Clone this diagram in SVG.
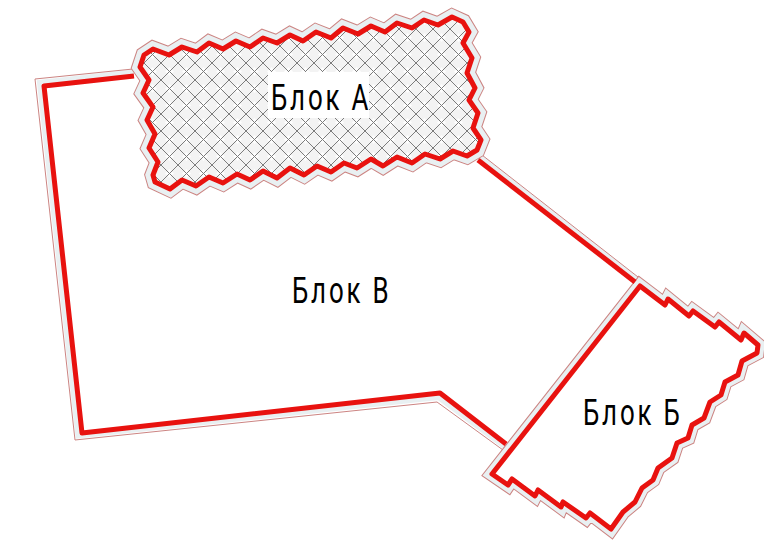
<svg xmlns="http://www.w3.org/2000/svg" xmlns:xlink="http://www.w3.org/1999/xlink" width="764" height="541" viewBox="0 0 764 541">
<style>
text{font-family:"Roboto","Liberation Sans",sans-serif;font-weight:400;font-size:37px;fill:#000;letter-spacing:4px}
.red{fill:none;stroke:#e8120f;stroke-width:5;stroke-linejoin:round}
.line{fill:none;stroke:#cc8482;stroke-width:1}
.band{fill:none;stroke:#e9f0f2;stroke-width:5}
</style>
<defs>
<pattern id="hatch" patternUnits="userSpaceOnUse" width="17" height="17" x="8" y="12">
<rect width="17" height="17" fill="#f3f3f3"/>
<path d="M8.500 4L13 8.500L8.500 13L4 8.500Z" fill="#fefefe"/>
<path d="M0 0L17 17M17 0L0 17" stroke="#7c7c7c" stroke-width="1" fill="none"/>
</pattern>
<path id="pa" d="M140 67L144 55L153 49L169 55L182 47L197 52L209 43L223 49L236 41L250 47L263 38L277 43L290 35L303 41L316 32L331 38L343 28L358 34L371 26L385 32L397 23L412 28L424 20L438 25L452 17L463 22L469 32L463 43L472 58L467 73L475 88L469 100L478 113L473 128L481 140L477 150L467 156L453 151L440 159L425 154L412 163L397 157L383 166L371 159L357 168L344 163L331 172L317 166L304 175L290 168L277 178L263 171L250 180L237 174L223 183L209 177L196 186L182 180L170 189L155 182L153 175L158 162L149 148L155 134L147 120L153 107L143 93L149 80Z"/>
<path id="pb" d="M640 286L665 305L668 299L689 316L693 311L715 327L719 322L741 340L744 333L758 345L757 353L742 361L738 375L725 382L721 395L710 402L704 418L692 425L688 438L677 443L672 458L658 468L653 480L642 488L635 502L623 512L611 529L590 513L586 518L563 502L561 507L538 490L535 496L512 479L508 485L492 474Z"/>
</defs>
<g id="connectors">
<path class="band" d="M134 72L39.500 82.500L78 436L438.500 397.500L505 447"/>
<path class="band" d="M480 157L636 279"/>
<path class="line" d="M133 69L35 79L75 440L437 402L503 450"/>
<path class="line" d="M482 155L638 277"/>
</g>
<g id="blok-b">
<use xlink:href="#pb" fill="none" stroke="#cc8482" stroke-width="15"/>
<use xlink:href="#pb" fill="#fff" stroke="#e9f0f2" stroke-width="13"/>
<use xlink:href="#pb" fill="#fff"/>
<use xlink:href="#pb" class="red"/>
<text transform="translate(583 425) scale(.7 1)">Блок Б</text>
</g>
<g id="blok-v">
<path class="red" d="M134 76L44 86L82 433L440 393L506 444"/>
<path class="red" d="M478 160L635 282"/>
<text transform="translate(292 303) scale(.7 1)">Блок В</text>
</g>
<g id="blok-a">
<use xlink:href="#pa" fill="none" stroke="#cc8482" stroke-width="17"/>
<use xlink:href="#pa" fill="none" stroke="#e9f0f2" stroke-width="15"/>
<use xlink:href="#pa" fill="url(#hatch)"/>
<use xlink:href="#pa" class="red"/>
<rect x="268" y="72" width="101" height="46" fill="#fff"/>
<text transform="translate(271 110) scale(.7 1)">Блок А</text>
</g>
</svg>
